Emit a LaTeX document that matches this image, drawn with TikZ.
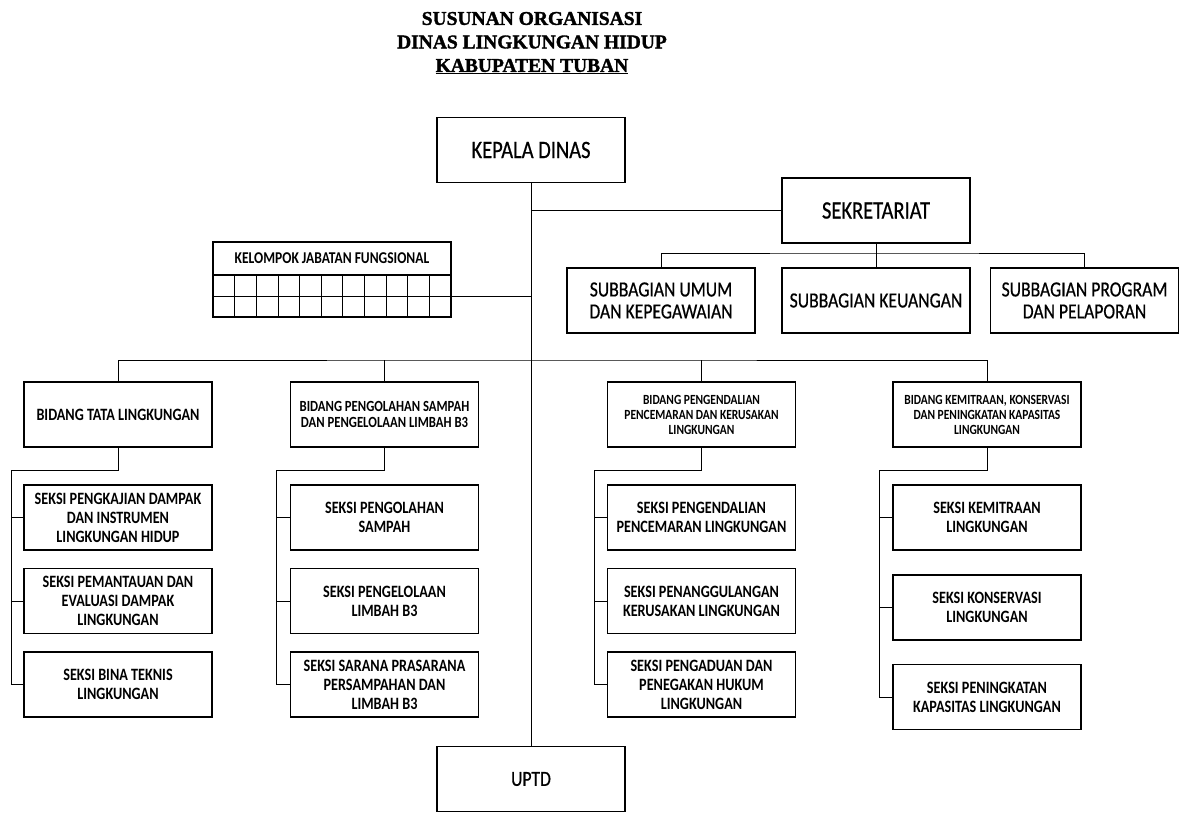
\documentclass[tikz,border=0pt]{standalone}
\usepackage{fontspec}
\setmainfont{Carlito}[FakeStretch=0.82,UprightFeatures={FakeBold=0.6}]
\newfontfamily\titlefont{Liberation Serif}[BoldFeatures={FakeBold=1.6}]
\usetikzlibrary{positioning,calc}
\tikzset{
  unit/.style={draw,line width=1.3pt,minimum width=188pt,minimum height=65pt,inner sep=1pt,align=center},
  head/.style={unit,font=\fontsize{25}{27}\selectfont},
  subbag/.style={unit,font=\fontsize{21.5}{22}\selectfont},
  seksi/.style={unit,font=\bfseries\fontsize{17.3}{19}\selectfont},
  bidang/.style={unit,font=\bfseries\fontsize{15.5}{16.7}\selectfont},
  bidangsm/.style={unit,font=\bfseries\fontsize{14}{15}\selectfont},
  jabatan/.style={draw,line width=1.3pt,minimum width=238pt,inner sep=0pt,outer sep=0pt},
  link/.style={draw,line width=0.8pt}
}

\begin{document}
\begin{tikzpicture}[x=1pt,y=-1pt]
  \useasboundingbox (0,0) rectangle (1189,812);
  \fill[white] (0,0) rectangle (1189,812);

  % Title
  \node[align=center,font=\titlefont\bfseries\fontsize{19.5}{23.5}\selectfont] (title) at (532,43)
    {SUSUNAN ORGANISASI\\DINAS LINGKUNGAN HIDUP\\\underline{KABUPATEN TUBAN}};

  % Top level
  \node[head] (kepala) at (531,150) {KEPALA DINAS};
  \node[head] (sekre) at (876,210.5) {SEKRETARIAT};
  \node[subbag] (sub1) at (661,300.5) {SUBBAGIAN UMUM\\DAN KEPEGAWAIAN};
  \node[subbag] (sub2) at (876,300.5) {SUBBAGIAN KEUANGAN};
  \node[subbag] (sub3) at (1084.5,300.5) {SUBBAGIAN PROGRAM\\DAN PELAPORAN};
  \node[subbag] (uptd) at (531,779) {UPTD};

  % Kelompok jabatan fungsional
  \node[jabatan,minimum height=33pt,font=\bfseries\fontsize{16.5}{18}\selectfont] (kjf) at (332,258.5) {KELOMPOK JABATAN FUNGSIONAL};
  \node[jabatan,minimum height=42pt,below=0pt of kjf] (kjfgrid) {};
  \draw[line width=0.8pt] (kjfgrid.west) -- (kjfgrid.east);
  \foreach \i in {1,...,10}
    \draw[line width=0.8pt] ($(kjfgrid.north west)!\i/11!(kjfgrid.north east)$) -- ($(kjfgrid.south west)!\i/11!(kjfgrid.south east)$);

  % Bidang
  \node[seksi] (b1) at (118,414.5) {BIDANG TATA LINGKUNGAN};
  \node[bidang] (b2) at (384.5,414.5) {BIDANG PENGOLAHAN SAMPAH\\DAN PENGELOLAAN LIMBAH B3};
  \node[bidangsm] (b3) at (701.5,414.5) {BIDANG PENGENDALIAN\\PENCEMARAN DAN KERUSAKAN\\LINGKUNGAN};
  \node[bidangsm] (b4) at (987,414.5) {BIDANG KEMITRAAN, KONSERVASI\\DAN PENINGKATAN KAPASITAS\\LINGKUNGAN};

  % Seksi
  \node[seksi] (s11) at (118,517.5) {SEKSI PENGKAJIAN DAMPAK\\DAN INSTRUMEN\\LINGKUNGAN HIDUP};
  \node[seksi] (s12) at (118,601) {SEKSI PEMANTAUAN DAN\\EVALUASI DAMPAK\\LINGKUNGAN};
  \node[seksi] (s13) at (118,684.5) {SEKSI BINA TEKNIS\\LINGKUNGAN};
  \node[seksi] (s21) at (384.5,517.5) {SEKSI PENGOLAHAN\\SAMPAH};
  \node[seksi] (s22) at (384.5,601) {SEKSI PENGELOLAAN\\LIMBAH B3};
  \node[seksi] (s23) at (384.5,684.5) {SEKSI SARANA PRASARANA\\PERSAMPAHAN DAN\\LIMBAH B3};
  \node[seksi] (s31) at (701.5,517.5) {SEKSI PENGENDALIAN\\PENCEMARAN LINGKUNGAN};
  \node[seksi] (s32) at (701.5,601) {SEKSI PENANGGULANGAN\\KERUSAKAN LINGKUNGAN};
  \node[seksi] (s33) at (701.5,684.5) {SEKSI PENGADUAN DAN\\PENEGAKAN HUKUM\\LINGKUNGAN};
  \node[seksi] (s41) at (987,517.5) {SEKSI KEMITRAAN\\LINGKUNGAN};
  \node[seksi] (s42) at (987,607.5) {SEKSI KONSERVASI\\LINGKUNGAN};
  \node[seksi] (s43) at (987,697) {SEKSI PENINGKATAN\\KAPASITAS LINGKUNGAN};

  % Junction points
  \coordinate (sbus) at (876,253);
  \coordinate (bbus) at (531,360);
  \coordinate (t1) at (11,470);
  \coordinate (t2) at (276,470);
  \coordinate (t3) at (594,470);
  \coordinate (t4) at (879,470);

  % Main line
  \draw[link] (kepala.south) -- (uptd.north);
  \draw[link] (kjfgrid.east) -- (kjfgrid.east -| kepala.south);
  \draw[link] (sekre.west) -- (sekre.west -| kepala.south);

  % Sekretariat
  \draw[link] (sekre.south) -- (sbus);
  \draw[link] (sub1.north) |- (sbus) -| (sub3.north);
  \draw[link] (sub2.north) -- (sbus);

  % Bidang bus
  \draw[link] (b1.north) |- (bbus) -| (b4.north);
  \draw[link] (b2.north) -- (b2.north |- bbus);
  \draw[link] (b3.north) -- (b3.north |- bbus);

  % Seksi columns
  \draw[link] (b1.south) |- (t1) |- (s13.west);
  \draw[link] (s11.west) -- (s11.west -| t1);
  \draw[link] (s12.west) -- (s12.west -| t1);
  \draw[link] (b2.south) |- (t2) |- (s23.west);
  \draw[link] (s21.west) -- (s21.west -| t2);
  \draw[link] (s22.west) -- (s22.west -| t2);
  \draw[link] (b3.south) |- (t3) |- (s33.west);
  \draw[link] (s31.west) -- (s31.west -| t3);
  \draw[link] (s32.west) -- (s32.west -| t3);
  \draw[link] (b4.south) |- (t4) |- (s43.west);
  \draw[link] (s41.west) -- (s41.west -| t4);
  \draw[link] (s42.west) -- (s42.west -| t4);
\end{tikzpicture}
\end{document}
